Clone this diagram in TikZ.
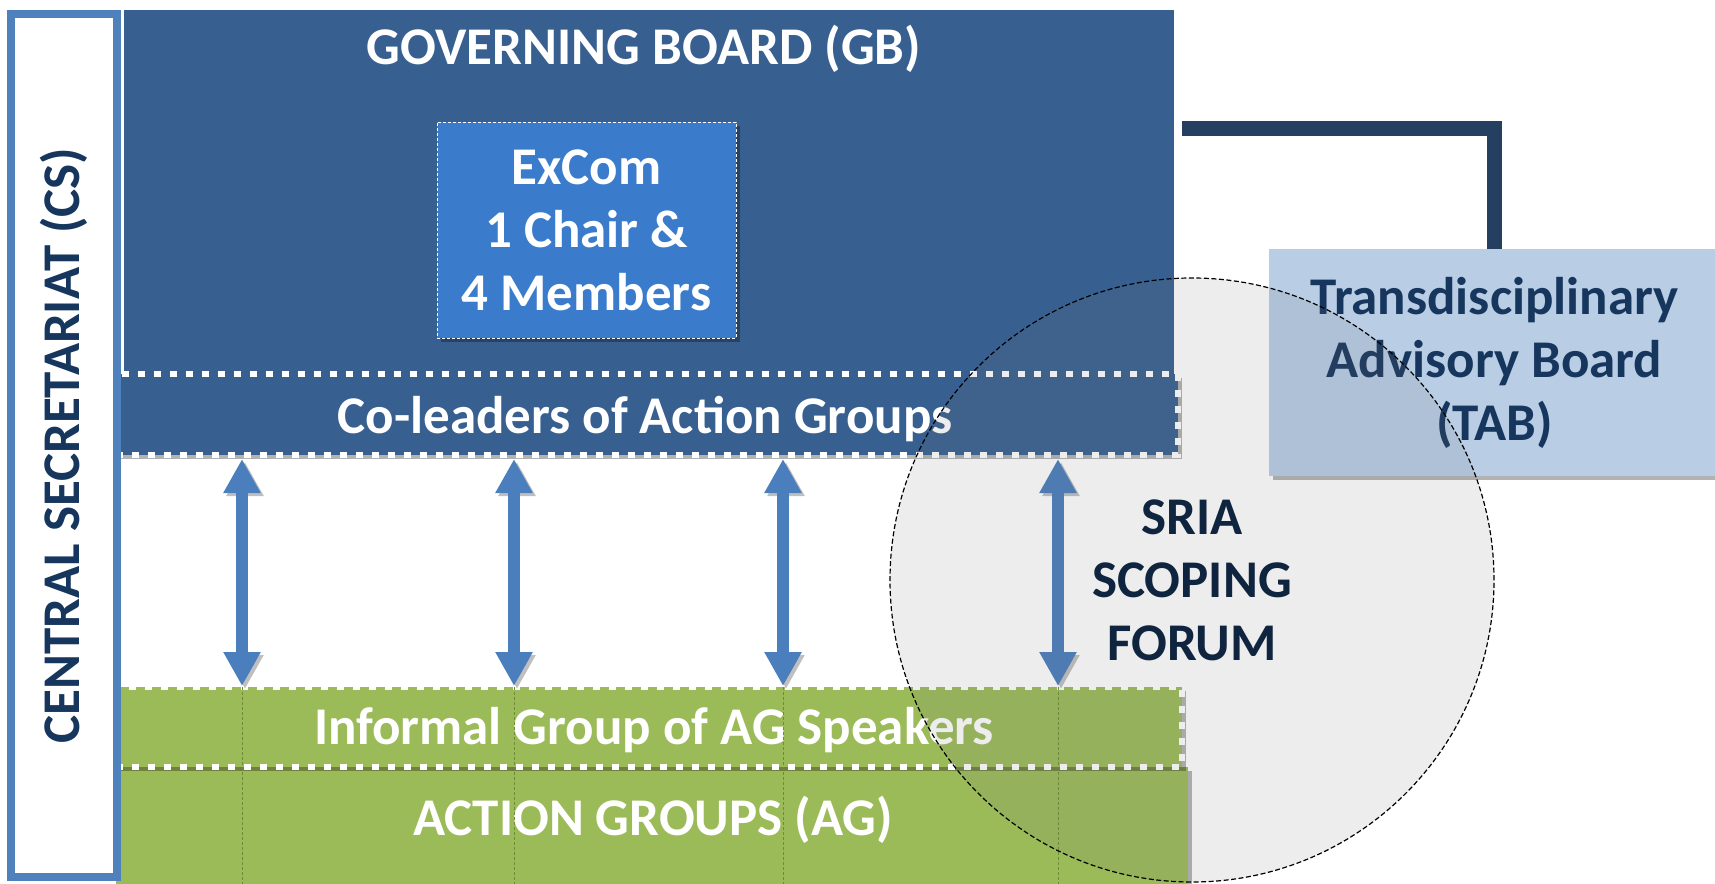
\documentclass[tikz,border=0pt]{standalone}
\usepackage{fontspec}
\setmainfont{Carlito}
\usetikzlibrary{shadows,arrows.meta,backgrounds}
\definecolor{gbblue}{RGB}{55,96,145}
\definecolor{exblue}{RGB}{58,124,203}
\definecolor{arrblue}{RGB}{74,126,188}
\definecolor{csblue}{RGB}{79,129,189}
\definecolor{navy}{RGB}{23,54,93}
\definecolor{connblue}{RGB}{36,63,96}
\definecolor{tabfill}{RGB}{185,205,229}
\definecolor{agreen}{RGB}{155,187,89}
\definecolor{dkgreen}{RGB}{110,140,55}
\definecolor{sriatext}{RGB}{15,36,62}
\begin{document}
\begin{tikzpicture}[x=1pt,y=-1pt,
  every node/.style={inner sep=0pt, outer sep=0pt, font=\bfseries\fontsize{53}{63}\selectfont},
  shadowed/.style={drop shadow={shadow xshift=4pt, shadow yshift=-4pt, opacity=0.3, fill=black}},
  box/.style={rectangle, shadowed},
  dotbox/.style={box, draw=white, line width=6pt, dash pattern=on 7pt off 9pt},
  boxtext/.style={text=white, anchor=base},
  arrshadow/.style={preaction={draw=black, opacity=0.25, transform canvas={xshift=3pt,yshift=-3pt}}},
  arr/.style={draw=arrblue, line width=12pt, {Triangle[length=34pt,width=35pt]}-{Triangle[length=34pt,width=35pt]}, arrshadow},
  conn/.style={draw=connblue, line width=15pt, line join=miter, arrshadow},
  guide/.style={draw=dkgreen, line width=0.8pt, dash pattern=on 3pt off 2pt}
]
\useasboundingbox (0,0) rectangle (1715,883);
\coordinate (cy) at (0,128.5);

% Governing board
\node[box, fill=gbblue, draw=white, line width=8pt, minimum width=1058pt, minimum height=449pt] (gb) at (649,230.5) {};
\node[boxtext] (gbt) at (644,65) {GOVERNING BOARD (GB)};
\node[box, fill=exblue, draw=white, line width=0.8pt, densely dashed, minimum width=299pt, minimum height=216pt, text=white, align=center] (ex) at (586.5,230) {ExCom\\1 Chair \&\\4 Members};
\node[dotbox, fill=gbblue, minimum width=1062pt, minimum height=81pt] (cl) at (647,414.5) {};
\node[boxtext] (clt) at (645,433) {Co-leaders of Action Groups};

% TAB
\node[box, fill=tabfill, minimum width=451pt, minimum height=227pt, text=navy, align=center] (tab) at (1494.5,362.5) {Transdisciplinary\\Advisory Board\\(TAB)};

\begin{scope}[on background layer]
\draw[conn] (gb.east |- cy) -| (tab.north);
\end{scope}

% Action groups
\node[box, fill=agreen, minimum width=1072pt, minimum height=123pt] (ag) at (652,828.5) {};
\node[dotbox, fill=agreen, minimum width=1066pt, minimum height=80pt] (ig) at (649,727) {};
\node[boxtext] (igt) at (654,744) {Informal Group of AG Speakers};
\node[boxtext] (agt) at (653,835) {ACTION GROUPS (AG)};

\foreach \i/\x in {1/242,2/514,3/783,4/1058} {
  \coordinate (t\i) at (\x,459);
  \coordinate (b\i) at (\x,686);
}
\foreach \i in {1,...,4} {
  \draw[guide] (ig.north -| b\i) -- (ag.south -| b\i);
  \draw[arr] (t\i) -- (b\i);
}

% Central secretariat
\node[box, rotate=90, fill=white, draw=csblue, line width=8pt, minimum width=863pt, minimum height=105.5pt, text=navy] (cs) at (64,445.5) {CENTRAL SECRETARIAT (CS)};

% SRIA scoping forum
\node[circle, draw=black, line width=1.2pt, dash pattern=on 5pt off 2.5pt, fill=black!56, fill opacity=0.125, text opacity=1, text=sriatext, align=center, minimum size=604pt] (sf) at (1192,580) {SRIA\\SCOPING\\FORUM};
\end{tikzpicture}
\end{document}
